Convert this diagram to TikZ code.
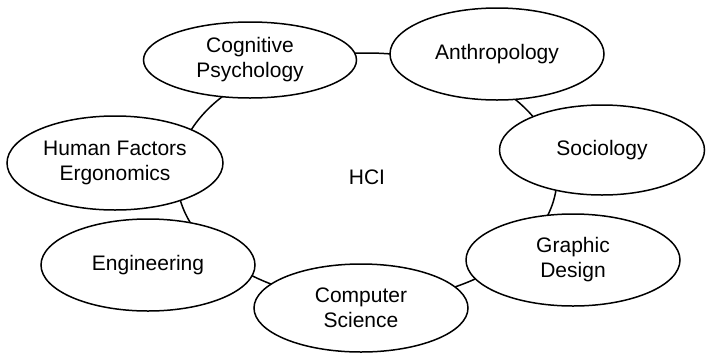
\documentclass[tikz,border=0pt]{standalone}
\usepackage{fontspec}
\setmainfont{Liberation Sans}
\usetikzlibrary{shapes.geometric}
\begin{document}
\begin{tikzpicture}[x=1pt,y=-1pt,
  every node/.style={font=\fontsize{21}{25}\selectfont, align=center},
  topic/.style={ellipse, draw, line width=1.5pt, fill=white, inner sep=0pt},
  ring/.style={ellipse, draw, line width=1.5pt, inner sep=0pt}]
\useasboundingbox (0,0) rectangle (706,357);
\node[ring, minimum width=380, minimum height=248] (hci) at (367,177) {HCI};
\node[topic, minimum width=213, minimum height=76] (cog) at (250,60) {Cognitive\\Psychology};
\node[topic, minimum width=214, minimum height=92] (anth) at (497,54) {Anthropology};
\node[topic, minimum width=205, minimum height=90] (soc) at (602,150) {Sociology};
\node[topic, minimum width=216, minimum height=94] (hf) at (115,163) {Human Factors\\Ergonomics};
\node[topic, minimum width=214, minimum height=92] (eng) at (148,265) {Engineering};
\node[topic, minimum width=214, minimum height=88] (cs) at (361,308) {Computer\\Science};
\node[topic, minimum width=214, minimum height=92] (gd) at (573,260) {Graphic\\Design};
\end{tikzpicture}
\end{document}
